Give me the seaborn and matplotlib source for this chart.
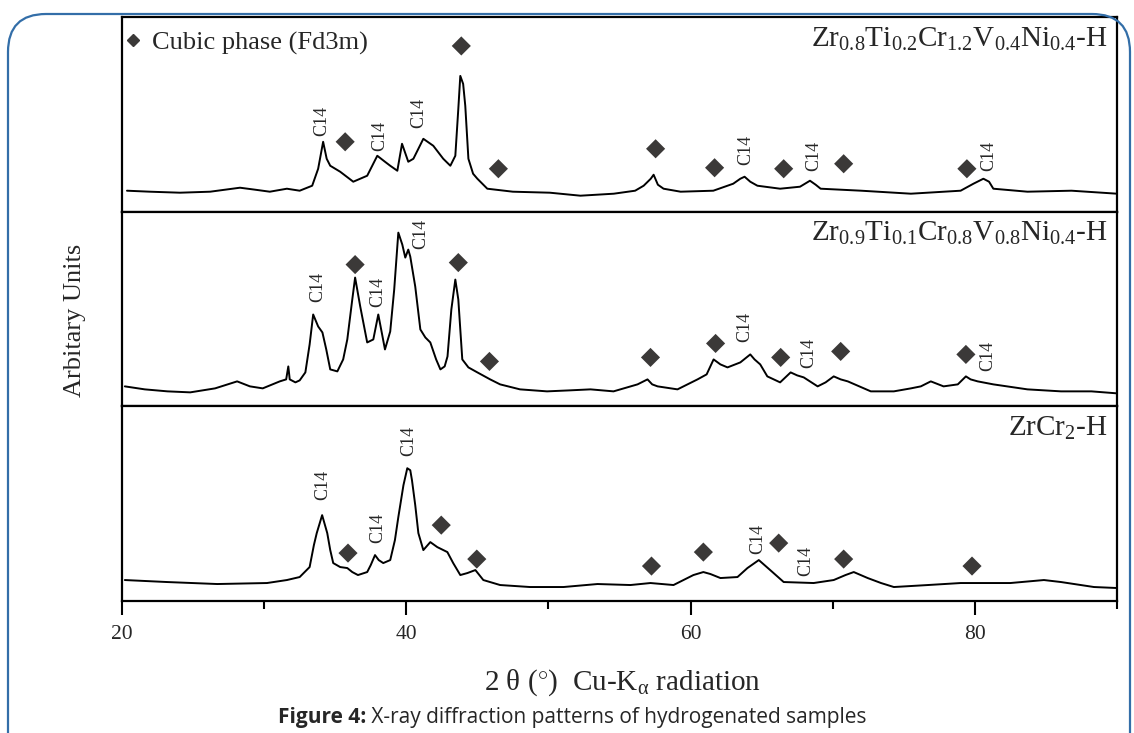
import matplotlib
matplotlib.use("Agg")
import matplotlib.pyplot as plt
import seaborn as sns
import pandas as pd
from matplotlib.patches import FancyBboxPatch
from matplotlib.lines import Line2D
from matplotlib.transforms import IdentityTransform

# ---- data (2theta in degrees, intensity in a.u.) ----
# Zr0.8Ti0.2Cr1.2V0.4Ni0.4-H
tt_a = [20.35, 21.97, 24.08, 26.2, 28.3, 29.37, 30.4, 31.6, 32.5, 33.38, 33.8, 34.15, 34.4, 34.65,
        35.35, 36.27, 37.25, 37.96, 38.5, 38.87, 39.37, 39.7, 40.14, 40.5, 41.2, 41.9, 42.6, 43.1,
        43.45, 43.66, 43.8, 44.0, 44.15, 44.37, 44.7, 45.0, 45.7, 47.5, 50.1, 52.25, 54.6, 56.1,
        56.7, 57.2, 57.4, 57.7, 58.1, 59.3, 61.6, 63.0, 63.5, 63.8, 64.2, 64.7, 66.3, 67.7, 68.4,
        68.8, 69.15, 72.0, 75.5, 79.0, 79.9, 80.6, 81.0, 81.3, 83.7, 86.8, 90.0]
int_a = [21, 20, 19, 20, 24, 22, 20, 23, 21, 26, 43, 70, 53, 46,
         40, 30, 36, 56, 50, 46, 41, 68, 50, 53, 73, 66, 53, 46,
         56, 103, 136, 128, 106, 53, 38, 33, 23, 20, 19, 16, 18, 21,
         26, 33, 37, 27, 23, 20, 21, 28, 33, 35, 30, 26, 23, 25, 31,
         27, 23, 21, 18, 21, 28, 33, 30, 23, 20, 21, 18]
cub_x_a = [35.7, 43.87, 46.48, 57.54, 61.69, 66.55, 70.77, 79.44]
cub_y_a = [70, 166, 43, 63, 44, 43, 48, 43]
c14_x_a = [34.08, 38.1, 40.9, 63.87, 68.66, 80.99]
c14_y_a = [91, 76, 99, 62, 56, 56]

# Zr0.9Ti0.1Cr0.8V0.8Ni0.4-H
tt_b = [20.2, 21.6, 23.2, 24.8, 26.55, 28.1, 29.0, 29.9, 31.1, 31.55, 31.7, 31.8, 32.2, 32.5,
        32.9, 33.2, 33.45, 33.8, 34.1, 34.37, 34.65, 35.15, 35.56, 35.85, 36.2, 36.4, 36.76,
        37.25, 37.68, 38.03, 38.3, 38.5, 38.87, 39.15, 39.44, 39.72, 39.93, 40.14, 40.28, 40.63,
        40.99, 41.34, 41.69, 42.1, 42.4, 42.7, 42.9, 43.17, 43.45, 43.66, 43.94, 44.37, 45.0,
        45.9, 46.6, 48.0, 49.9, 51.5, 52.96, 54.58, 56.27, 56.97, 57.3, 57.68, 59.08, 60.49,
        61.13, 61.62, 62.1, 62.6, 63.5, 64.2, 64.5, 64.9, 65.4, 66.3, 67.04, 67.5, 67.96, 68.94,
        69.5, 70.07, 70.56, 71.06, 72.68, 74.3, 75.5, 76.2, 76.9, 77.8, 78.8, 79.37, 79.7, 80.2,
        81.3, 83.7, 86.06, 88.2, 90.0]
int_b = [20, 17, 15, 14, 18, 25, 20, 18, 25, 27, 40, 27, 24, 26,
         34, 62, 92, 80, 74, 57, 37, 35, 47, 67, 107, 129, 100,
         64, 67, 92, 72, 57, 75, 117, 174, 162, 149, 157, 150, 120,
         77, 69, 64, 47, 37, 40, 50, 97, 127, 107, 47, 39, 34,
         27, 22, 17, 15, 16, 17, 15, 22, 27, 22, 20, 17, 27,
         32, 47, 42, 39, 44, 52, 47, 42, 30, 24, 34, 31, 29, 20,
         24, 30, 27, 25, 15, 15, 18, 20, 25, 20, 22, 30, 27, 25,
         22, 17, 15, 15, 13]
cub_x_b = [36.4, 43.66, 45.85, 57.18, 61.76, 66.34, 70.56, 79.37]
cub_y_b = [142, 144, 45, 49, 63, 49, 55, 52]
c14_x_b = [33.8, 38.0, 41.0, 63.8, 68.3, 80.9]
c14_y_b = [120, 115, 173, 80, 53, 50]

# ZrCr2-H
tt_c = [20.2, 23.17, 26.7, 30.2, 31.6, 32.5, 33.2, 33.5, 33.7, 34.08, 34.44, 34.65, 34.86,
        35.35, 35.85, 36.2, 36.6, 37.25, 37.5, 37.8, 38.06, 38.38, 38.87, 39.2, 39.44, 39.8,
        40.07, 40.28, 40.4, 40.63, 40.85, 41.2, 41.69, 42.18, 42.89, 43.3, 43.8, 44.3, 44.86,
        45.42, 46.6, 48.7, 51.06, 53.45, 55.77, 57.18, 58.8, 60.2, 60.9, 61.4, 62.1, 63.3, 64.0,
        64.8, 65.2, 65.6, 66.55, 68.66, 70.07, 70.9, 71.48, 71.97, 72.46, 73.4, 74.3, 76.7,
        79.0, 82.5, 84.86, 86.06, 88.38, 90.0]
int_c = [21, 19, 17, 18, 21, 24, 34, 56, 68, 86, 68, 51, 38,
         34, 33, 29, 26, 29, 36, 46, 41, 38, 41, 61, 84, 116,
         133, 131, 121, 96, 68, 51, 59, 54, 49, 38, 26, 28, 31,
         21, 16, 14, 14, 17, 16, 18, 16, 26, 29, 27, 23, 24, 33,
         41, 36, 31, 19, 18, 21, 26, 29, 26, 23, 18, 14, 16,
         18, 18, 21, 19, 14, 13]
cub_x_c = [35.9, 42.46, 44.96, 57.25, 60.9, 66.2, 70.77, 79.8]
cub_y_c = [48, 76, 42, 35, 49, 58, 42, 35]
c14_x_c = [34.1, 38.0, 40.2, 64.7, 68.1]
c14_y_c = [116, 73, 160, 62, 40]

labels = [r'Zr$_{0.8}$Ti$_{0.2}$Cr$_{1.2}$V$_{0.4}$Ni$_{0.4}$-H',
          r'Zr$_{0.9}$Ti$_{0.1}$Cr$_{0.8}$V$_{0.8}$Ni$_{0.4}$-H',
          r'ZrCr$_{2}$-H']

sns.set_style("white")
plt.rcParams['font.family'] = ['Liberation Serif', 'DejaVu Serif']
plt.rcParams['mathtext.fontset'] = 'custom'
plt.rcParams['mathtext.rm'] = 'Liberation Serif'
plt.rcParams['mathtext.it'] = 'Liberation Serif:italic'
plt.rcParams['mathtext.bf'] = 'Liberation Serif:bold'

fig = plt.figure(figsize=(11.34, 7.33), dpi=100)
left, width = 122 / 1134, 995 / 1134
bottom = 1 - 601 / 733
h = (601 - 17) / 733 / 3
axes = [fig.add_axes([left, bottom + (2 - i) * h, width, h]) for i in range(3)]

panels = [(tt_a, int_a, cub_x_a, cub_y_a, c14_x_a, c14_y_a),
          (tt_b, int_b, cub_x_b, cub_y_b, c14_x_b, c14_y_b),
          (tt_c, int_c, cub_x_c, cub_y_c, c14_x_c, c14_y_c)]
diamond = '#3b3938'

for i, (ax, (tt, inten, cx, cy, lx, ly)) in enumerate(zip(axes, panels)):
    df = pd.DataFrame({'2theta': tt, 'I': inten})
    sns.lineplot(data=df, x='2theta', y='I', ax=ax, color='black', lw=1.4,
                 estimator=None, sort=False)
    sns.scatterplot(x=cx, y=cy, marker='D', s=95, color=diamond, edgecolor='none', ax=ax, zorder=3)
    for x, y in zip(lx, ly):
        ax.text(x, y, 'C14', rotation=90, ha='center', va='center', fontsize=13)
    ax.text(0.991, 0.848, labels[i], transform=ax.transAxes, ha='right', va='baseline', fontsize=21)
    ax.set_xlim(20, 90)
    ax.set_ylim(0, 195)
    ax.set_yticks([])
    ax.set_xlabel('')
    ax.set_ylabel('')
    for sp in ax.spines.values():
        sp.set_linewidth(1.6)
        sp.set_color('black')
    if i < 2:
        ax.tick_params(axis='x', bottom=False, labelbottom=False)
    else:
        ax.set_xticks([20, 40, 60, 80])
        ax.set_xticks([30, 50, 70, 90], minor=True)
        ax.tick_params(axis='x', which='major', bottom=True, direction='out', length=10,
                       width=1.5, labelsize=15.5, pad=7, color='black')
        ax.tick_params(axis='x', which='minor', bottom=True, direction='out', length=6,
                       width=1.5, color='black')

handle = Line2D([], [], marker='D', ls='none', color=diamond, markersize=6)
axes[0].legend([handle], ['Cubic phase (Fd3m)'], loc='upper left', bbox_to_anchor=(-0.008, 0.955),
               frameon=False, fontsize=19, handletextpad=0.25, handlelength=1.0,
               borderaxespad=0.0, borderpad=0.2)

fig.text(622 / 1134, 1 - 683 / 733, r'2 θ ($^{\circ}$)  Cu-K$_{\mathrm{α}}$ radiation',
         ha='center', va='center', fontsize=21)
fig.text(75 / 1134, 1 - 320 / 733, 'Arbitary Units', rotation=90, ha='center', va='center', fontsize=19)

# caption
cap_font = ['Open Sans', 'DejaVu Sans']
cap_y = 1 - 717 / 733
t1 = fig.text(0, cap_y, 'Figure 4:', weight='bold', family=cap_font, fontsize=15, va='center')
t2 = fig.text(0, cap_y, ' X-ray diffraction patterns of hydrogenated samples', family=cap_font,
              fontsize=15, va='center')
fig.canvas.draw()
r = fig.canvas.get_renderer()
w1 = t1.get_window_extent(r).width
w2 = t2.get_window_extent(r).width
x0 = 572 - (w1 + w2) / 2
t1.set_x(x0 / 1134)
t2.set_x((x0 + w1) / 1134)

border = FancyBboxPatch((8, -60), 1122, 779, boxstyle='round,pad=0,rounding_size=38',
                        transform=IdentityTransform(), fill=False, edgecolor='#336ea8', lw=1.6)
fig.add_artist(border)

fig.savefig('out.png', dpi=100)
